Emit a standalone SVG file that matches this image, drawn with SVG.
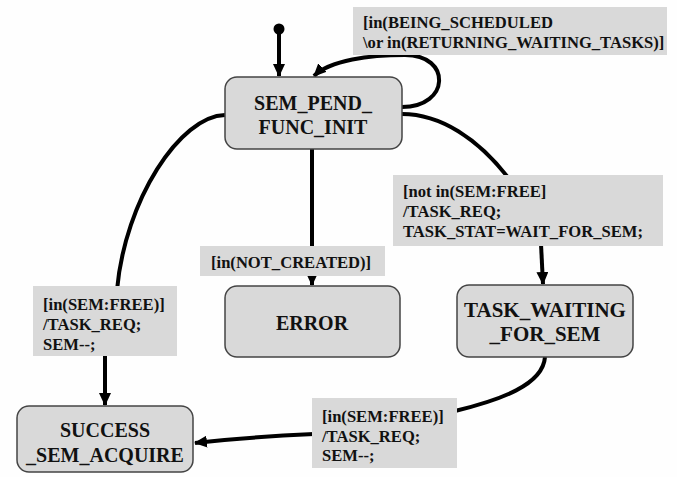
<svg xmlns="http://www.w3.org/2000/svg" width="677" height="477" viewBox="0 0 677 477">
  <defs>
    <marker id="arrow" markerUnits="userSpaceOnUse" markerWidth="13" markerHeight="12" refX="12" refY="6" orient="auto">
      <path d="M0,0 L13,6 L0,12 z" fill="#000"/>
    </marker>
    <style>
      .state rect { fill: #d9d9d9; stroke: #444; stroke-width: 1.5; }
      .state text { font-size: 20px; fill: #111; text-anchor: middle; }
      .guard rect { fill: #d9d9d9; stroke: none; }
      .guard text { font-size: 16.6px; fill: #111; }
      .edge { fill: none; stroke: #000; stroke-width: 4; }
    </style>
  </defs>

  <rect width="677" height="477" fill="#fefefe"/>

  <!-- transitions -->
  <g id="connectors">
    <circle cx="279" cy="29" r="5.5" fill="#000"/>
    <path class="edge" d="M279,30 L279,76" marker-end="url(#arrow)"/>
    <path class="edge" d="M402,107 C450,107 452,55 405,55 C370,55 330,60 314,76" marker-end="url(#arrow)"/>
    <path class="edge" d="M225,115 C180,116 125,200 117,290"/>
    <path class="edge" d="M105,356 L105,405" marker-end="url(#arrow)"/>
    <path class="edge" d="M312,149 L312,250"/>
    <path class="edge" d="M312,274 L312,285" marker-end="url(#arrow)"/>
    <path class="edge" d="M402,114 C440,114 478,138 510,180"/>
    <path class="edge" d="M541,244 L543,284" marker-end="url(#arrow)"/>
    <path class="edge" d="M545,357 C543,385 500,400 455,411"/>
    <path class="edge" d="M314,434 C270,436 230,439 195,443" marker-end="url(#arrow)"/>
  </g>

  <g font-family="'Liberation Serif', 'Times New Roman', serif" font-weight="bold">
    <!-- guard / action labels -->
    <g id="label-self" class="guard">
      <rect x="353" y="7" width="314" height="48"/>
      <text x="363" y="28">[in(BEING_SCHEDULED</text>
      <text x="363" y="48">\or in(RETURNING_WAITING_TASKS)]</text>
    </g>
    <g id="label-free-left" class="guard">
      <rect x="33" y="286" width="144" height="70"/>
      <text x="43" y="310">[in(SEM:FREE)]</text>
      <text x="43" y="330">/TASK_REQ;</text>
      <text x="43" y="350">SEM--;</text>
    </g>
    <g id="label-not-created" class="guard">
      <rect x="200" y="246" width="185" height="30"/>
      <text x="211" y="268">[in(NOT_CREATED)]</text>
    </g>
    <g id="label-not-free" class="guard">
      <rect x="393" y="175" width="270" height="71"/>
      <text x="403" y="197">[not in(SEM:FREE]</text>
      <text x="403" y="217">/TASK_REQ;</text>
      <text x="403" y="237">TASK_STAT=WAIT_FOR_SEM;</text>
    </g>
    <g id="label-free-bottom" class="guard">
      <rect x="312" y="398" width="145" height="70"/>
      <text x="322" y="422">[in(SEM:FREE)]</text>
      <text x="322" y="442">/TASK_REQ;</text>
      <text x="322" y="461">SEM--;</text>
    </g>

    <!-- states -->
    <g id="SEM_PEND_FUNC_INIT" class="state">
      <rect x="225" y="77" width="177" height="72" rx="12"/>
      <text x="313" y="110">SEM_PEND_</text>
      <text x="313" y="134">FUNC_INIT</text>
    </g>
    <g id="ERROR" class="state">
      <rect x="225" y="286" width="175" height="71" rx="12"/>
      <text x="312" y="330">ERROR</text>
    </g>
    <g id="TASK_WAITING_FOR_SEM" class="state">
      <rect x="457" y="285" width="176" height="72" rx="12"/>
      <text x="545" y="317" style="font-size:21px">TASK_WAITING</text>
      <text x="545" y="341" style="font-size:21px">_FOR_SEM</text>
    </g>
    <g id="SUCCESS_SEM_ACQUIRE" class="state">
      <rect x="17" y="406" width="176" height="66" rx="12"/>
      <text x="105" y="437">SUCCESS</text>
      <text x="105" y="462">_SEM_ACQUIRE</text>
    </g>
  </g>
</svg>
